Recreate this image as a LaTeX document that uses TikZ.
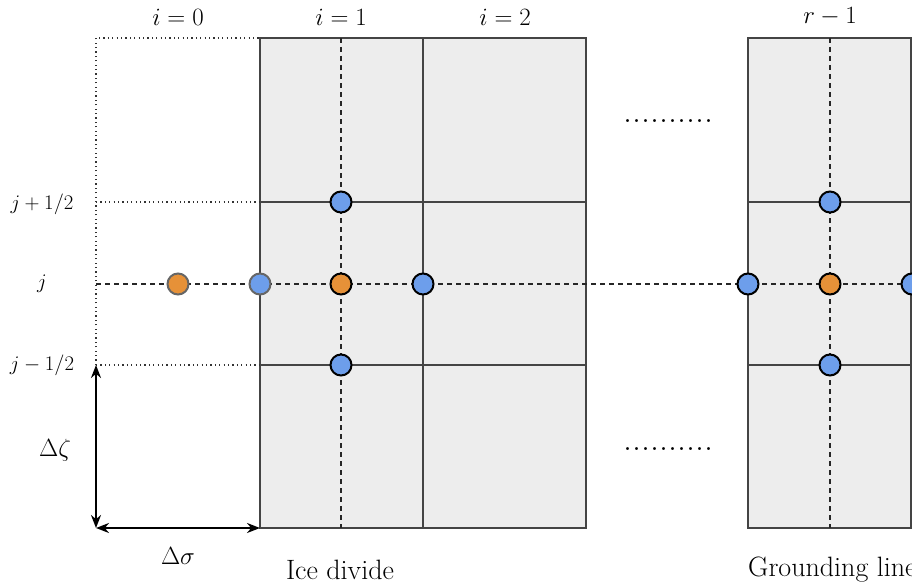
\documentclass[tikz,border=0pt]{standalone}
\usetikzlibrary{arrows.meta}
\definecolor{cellgray}{HTML}{EDEDED}
\definecolor{edgegray}{HTML}{444444}
\definecolor{ptblue}{HTML}{6D9EEB}
\definecolor{ptorange}{HTML}{E69138}
\tikzset{
  cell/.style={fill=cellgray, draw=edgegray, line width=1.4pt},
  gridline/.style={draw=edgegray, line width=1.4pt},
  midline/.style={draw=black!85, line width=1.2pt, dash pattern=on 5pt off 4pt},
  guide/.style={draw=black!80, line width=1.1pt, dash pattern=on 1.2pt off 3.2pt},
  bluept/.style={circle, fill=ptblue, draw=black, line width=2pt, minimum size=21pt, inner sep=0pt},
  orangept/.style={circle, fill=ptorange, draw=black, line width=2pt, minimum size=21pt, inner sep=0pt},
  ghostblue/.style={bluept, draw=black!60},
  ghostorange/.style={orangept, draw=black!60},
  toplabel/.style={font=\fontsize{26}{30}\selectfont},
  sidelabel/.style={font=\fontsize{20}{24}\selectfont},
  botlabel/.style={font=\fontsize{28}{33}\selectfont},
  dim/.style={line width=2.6pt, {Stealth[length=13pt,width=10pt]}-{Stealth[length=13pt,width=10pt]}},
  dotsrow/.style={font=\fontsize{36}{40}\selectfont, anchor=base, inner sep=0pt}
}
\begin{document}
\begin{tikzpicture}[x=1pt,y=-1pt]
\useasboundingbox (0,0) rectangle (912,586);
% cells
\path[cell] (260,38) rectangle (586,528);
\path[cell] (748,38) rectangle (911,528);
\draw[gridline] (423,38) -- (423,528);
\draw[gridline] (260,202) -- (586,202);
\draw[gridline] (260,365) -- (586,365);
\draw[gridline] (748,202) -- (911,202);
\draw[gridline] (748,365) -- (911,365);
\draw[gridline] (260,38) rectangle (586,528);
\draw[gridline] (748,38) rectangle (911,528);
% guides
\draw[guide] (96,365) -- (96,38) -- (260,38);
\draw[guide] (96,202) -- (260,202);
\draw[guide] (96,365) -- (260,365);
% dashed mid lines
\draw[midline] (341,38) -- (341,528);
\draw[midline] (830,38) -- (830,528);
\draw[midline] (96,284) -- (912,284);
% points
\node[ghostorange] (p0) at (178,284) {};
\node[ghostblue] (h0) at (260,284) {};
\node[bluept] (n1) at (341,202) {};
\node[orangept] (p1) at (341,284) {};
\node[bluept] (s1) at (341,365) {};
\node[bluept] (h1) at (423,284) {};
\node[bluept] (hr0) at (748,284) {};
\node[bluept] (nr) at (830,202) {};
\node[orangept] (pr) at (830,284) {};
\node[bluept] (sr) at (830,365) {};
\node[bluept] (hr1) at (912,284) {};
% dots
\node[dotsrow] (d1) at (668,122) {..........};
\node[dotsrow] (d2) at (668,450) {..........};
% labels
\node[toplabel] (l0) at (178,17) {$i=0$};
\node[toplabel] (l1) at (341,17) {$i=1$};
\node[toplabel] (l2) at (505,17) {$i=2$};
\node[toplabel] (lr) at (830,17) {$r-1$};
\node[sidelabel] (jp) at (42,204) {$j+1/2$};
\node[sidelabel] (jj) at (42,284) {$j$};
\node[sidelabel] (jm) at (42,365) {$j-1/2$};
% dimensions
\coordinate (c1) at (96,365);
\coordinate (c2) at (96,528);
\coordinate (c3) at (260,528);
\draw[dim] (c1) -- (c2);
\draw[dim] (c2) -- (c3);
\node[botlabel] (dz) at (55,450) {$\Delta\zeta$};
\node[botlabel] (ds) at (178,556) {$\Delta\sigma$};
\node[botlabel] (ice) at (340,570) {Ice divide};
\node[botlabel, anchor=west, inner sep=0pt] (gl) at (748,570) {Grounding line};
\end{tikzpicture}
\end{document}
